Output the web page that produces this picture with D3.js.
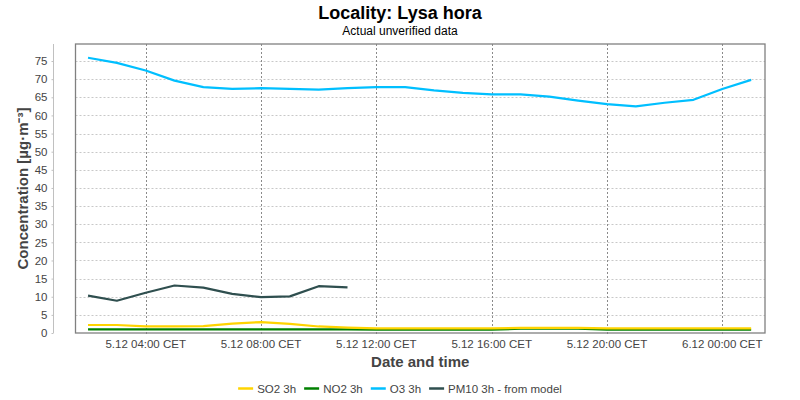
<!DOCTYPE html>
<html>
<head>
<meta charset="utf-8">
<script src="https://cdn.jsdelivr.net/npm/d3@7"></script>
<style>
  body { margin: 0; background: #fff; }
  svg { display: block; font-family: "Liberation Sans", Arial, sans-serif; }
</style>
</head>
<body>
<svg id="chart" width="800" height="400"></svg>
<script>
// ---- data ----
const hours = ["2024-12-05T02:00","2024-12-05T03:00","2024-12-05T04:00","2024-12-05T05:00","2024-12-05T06:00","2024-12-05T07:00",
  "2024-12-05T08:00","2024-12-05T09:00","2024-12-05T10:00","2024-12-05T11:00","2024-12-05T12:00","2024-12-05T13:00",
  "2024-12-05T14:00","2024-12-05T15:00","2024-12-05T16:00","2024-12-05T17:00","2024-12-05T18:00","2024-12-05T19:00",
  "2024-12-05T20:00","2024-12-05T21:00","2024-12-05T22:00","2024-12-05T23:00","2024-12-06T00:00","2024-12-06T01:00"];
const so2 = [2.2,2.2,1.8,1.8,1.9,2.6,3.0,2.5,1.8,1.5,1.3,1.3,1.3,1.3,1.3,1.4,1.4,1.4,1.3,1.3,1.3,1.3,1.3,1.3];
const no2 = [1.0,1.0,1.0,1.0,1.0,1.0,1.0,1.0,1.0,1.0,0.9,0.9,0.9,0.9,0.9,1.2,1.2,1.2,0.9,0.9,0.9,0.9,0.9,0.9];
const o3  = [75.9,74.5,72.4,69.6,67.8,67.3,67.5,67.3,67.1,67.5,67.8,67.8,66.9,66.2,65.8,65.8,65.2,64.1,63.1,62.5,63.5,64.3,67.3,69.8];
const pm10 = [10.3,8.9,11.1,13.1,12.5,10.8,9.9,10.1,12.9,12.6];
const seriesNames = ["SO2 3h","NO2 3h","O3 3h","PM10 3h - from model"];
const seriesColors = ["#FFD400","#008000","#00BFFF","#2F4F4F"];
const yTicks = [0,5,10,15,20,25,30,35,40,45,50,55,60,65,70,75];
const titleText = "Locality: Lysa hora";
const subtitleText = "Actual unverified data";
const xTitle = "Date and time";
const yTitle = "Concentration [µg·m⁻³]";

// ---- build ----
const parse = d3.utcParse("%Y-%m-%dT%H:%M");
const times = hours.map(parse);
const seriesValues = [so2, no2, o3, pm10];
const series = seriesValues.map((vals, i) => ({
  name: seriesNames[i], color: seriesColors[i],
  points: vals.map((v, j) => ({t: times[j], v}))
}));

const svg = d3.select("#chart");
const L = 75.5, R = 765, T = 44, B = 333;

const ext = d3.extent(times);
const span = ext[1] - ext[0];
const x = d3.scaleUtc()
  .domain([new Date(+ext[0] - span * 0.0189), new Date(+ext[1] + span * 0.0209)])
  .range([L, R]);
const maxV = d3.max(seriesValues.flat());
const y = d3.scaleLinear().domain([0, maxV * 1.05]).range([B, T]);

// title
svg.append("text").attr("x", 400).attr("y", 19).attr("text-anchor", "middle")
  .attr("font-size", 18).attr("font-weight", "bold").attr("fill", "#000").text(titleText);
svg.append("text").attr("x", 400).attr("y", 35).attr("text-anchor", "middle")
  .attr("font-size", 12).attr("fill", "#000").text(subtitleText);

// grid
const grid = svg.append("g");
grid.selectAll("line.h").data(yTicks.filter(d => d > 0)).join("line")
  .attr("x1", L).attr("x2", R).attr("y1", d => Math.round(y(d)) + 0.5).attr("y2", d => Math.round(y(d)) + 0.5)
  .attr("stroke", "#c8c8c8").attr("stroke-dasharray", "2,2");
const xTicks = x.ticks(d3.utcHour.every(4));
grid.selectAll("line.v").data(xTicks).join("line")
  .attr("x1", d => Math.round(x(d)) + 0.5).attr("x2", d => Math.round(x(d)) + 0.5)
  .attr("y1", T).attr("y2", B + 3)
  .attr("stroke", "#8a8a8a").attr("stroke-dasharray", "2,2");

// y axis (offset)
const yAxis = d3.axisLeft(y).tickValues(yTicks).tickSize(2).tickPadding(4);
const ya = svg.append("g").attr("transform", "translate(53.5,0)").call(yAxis);
ya.select(".domain").attr("stroke", "#c0c0c0").attr("d", `M0,${T}V${B}`);
ya.selectAll(".tick line").attr("stroke", "#c0c0c0");
ya.selectAll(".tick text").attr("font-size", 11.5).attr("fill", "#444")
  .attr("font-family", "Liberation Sans, Arial, sans-serif");

// x axis labels
const fmt = d3.utcFormat("%-d.%m %H:%M CET");
svg.append("g").selectAll("text").data(xTicks).join("text")
  .attr("x", d => x(d)).attr("y", 347.5).attr("text-anchor", "middle")
  .attr("font-size", 11.5).attr("fill", "#444").text(d => fmt(d));

// axis titles
svg.append("text").attr("x", (L + R) / 2).attr("y", 367).attr("text-anchor", "middle")
  .attr("font-size", 15).attr("font-weight", "bold").attr("fill", "#444").text(xTitle);
svg.append("text").attr("transform", `translate(27.5,${(T + B) / 2}) rotate(-90)`).attr("text-anchor", "middle")
  .attr("font-size", 15).attr("font-weight", "bold").attr("fill", "#444").text(yTitle);

// lines (reverse rendering order)
const line = d3.line().x(d => x(d.t)).y(d => y(d.v));
svg.append("g").selectAll("path").data(series.slice().reverse()).join("path")
  .attr("d", d => line(d.points)).attr("fill", "none")
  .attr("stroke", d => d.color).attr("stroke-width", 2.2).attr("stroke-linejoin", "round");

// plot border
svg.append("rect").attr("x", L).attr("y", T).attr("width", R - L).attr("height", B - T)
  .attr("fill", "none").attr("stroke", "#808080").attr("stroke-width", 1.3);

// legend
const leg = svg.append("g");
let lx = 0;
const gap = 8;
series.forEach(s => {
  const g = leg.append("g");
  g.append("line").attr("x1", 0).attr("x2", 15).attr("y1", 0).attr("y2", 0)
    .attr("stroke", s.color).attr("stroke-width", 2.5);
  const t = g.append("text").attr("x", 19).attr("y", 4.2).attr("font-size", 11.5).attr("fill", "#444").text(s.name);
  const w = 19 + t.node().getComputedTextLength();
  g.attr("transform", `translate(${lx},388.5)`);
  lx += w + gap;
});
const totalW = lx - gap;
leg.attr("transform", `translate(${400 - totalW / 2},0)`);
</script>
</body>
</html>
